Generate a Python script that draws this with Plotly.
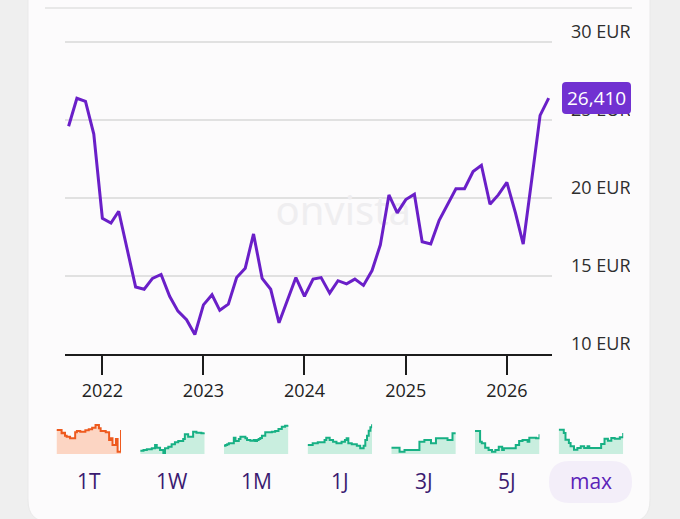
"""
plot.py

Price chart in the style of an onvista quote card: monthly closing prices
since autumn 2021, a badge with the last price and a row of small
step-line previews for the selectable time ranges below it.
"""

import plotly.graph_objects as go

W, H = 680, 519

# Main series (monthly, EUR)
DATES = [
    "2021-09-01", "2021-10-01", "2021-11-01", "2021-12-01",
    "2022-01-01", "2022-02-01", "2022-03-01", "2022-04-01", "2022-05-01", "2022-06-01",
    "2022-07-01", "2022-08-01", "2022-09-01", "2022-10-01", "2022-11-01", "2022-12-01",
    "2023-01-01", "2023-02-01", "2023-03-01", "2023-04-01", "2023-05-01", "2023-06-01",
    "2023-07-01", "2023-08-01", "2023-09-01", "2023-10-01", "2023-11-01", "2023-12-01",
    "2024-01-01", "2024-02-01", "2024-03-01", "2024-04-01", "2024-05-01", "2024-06-01",
    "2024-07-01", "2024-08-01", "2024-09-01", "2024-10-01", "2024-11-01", "2024-12-01",
    "2025-01-01", "2025-02-01", "2025-03-01", "2025-04-01", "2025-05-01", "2025-06-01",
    "2025-07-01", "2025-08-01", "2025-09-01", "2025-10-01", "2025-11-01", "2025-12-01",
    "2026-01-01", "2026-02-01", "2026-03-01", "2026-04-01", "2026-05-01", "2026-06-01",
]
PRICES = [
    24.6, 26.4, 26.2, 24.1,
    18.7, 18.4, 19.15, 16.75, 14.3, 14.15, 14.85, 15.1, 13.7, 12.75, 12.2, 11.25,
    13.15, 13.8, 12.8, 13.2, 14.9, 15.5, 17.7, 14.85, 14.15, 12.0, 13.45, 14.9,
    13.7, 14.8, 14.9, 13.9, 14.7, 14.5, 14.8, 14.4, 15.35, 17.0, 20.2, 19.05,
    19.9, 20.25, 17.2, 17.05, 18.55, 19.6, 20.6, 20.6, 21.7, 22.1, 19.6, 20.2,
    21.0, 19.05, 17.05, 21.2, 25.3, 26.41,
]

Y_TICKS = [10, 15, 20, 25, 30]
YEAR_TICKS = ["2022-01-01", "2023-01-01", "2024-01-01", "2025-01-01", "2026-01-01"]
YEAR_LABELS = ["2022", "2023", "2024", "2025", "2026"]

RANGE_LABELS = ["1T", "1W", "1M", "1J", "3J", "5J", "max"]
DOWN_RANGES = ["1T"]
SPARK_1T = [72, 72, 72, 62, 64, 55, 52, 52, 47, 47, 47, 65, 69, 69, 67, 67, 67, 71, 71, 74,
            74, 79, 79, 87, 87, 77, 69, 69, 69, 65, 65, 42, 47, 27, 27, 45, 7, 7, 72]
SPARK_1W = [10, 10, 12, 12, 14, 14, 14, 17, 17, 27, 19, 19, 12, 12, 2, 17, 17, 22, 22, 29,
            29, 35, 35, 39, 39, 39, 45, 59, 59, 52, 52, 52, 67, 67, 64, 64, 64, 62, 62, 64]
SPARK_1M = [25, 27, 29, 32, 32, 32, 49, 39, 39, 45, 52, 52, 52, 47, 42, 42, 40, 40, 42, 39,
            42, 45, 48, 55, 55, 65, 65, 65, 65, 67, 67, 69, 69, 75, 75, 82, 82, 85, 85, 86]
SPARK_1J = [27, 27, 27, 32, 32, 32, 35, 35, 35, 35, 42, 49, 49, 42, 42, 37, 37, 32, 32, 32,
            37, 37, 42, 47, 32, 32, 29, 29, 29, 25, 25, 17, 17, 25, 42, 55, 70, 80, 89]
SPARK_3J = [19, 19, 19, 19, 19, 7, 7, 7, 12, 12, 12, 12, 12, 12, 12, 12, 12, 37, 37, 37,
            42, 42, 42, 42, 32, 32, 32, 47, 47, 47, 47, 47, 47, 47, 42, 42, 42, 62, 62, 62]
SPARK_5J = [69, 69, 69, 37, 32, 32, 19, 19, 12, 12, 7, 7, 12, 12, 22, 22, 12, 17, 17, 17,
            17, 17, 17, 17, 27, 27, 39, 39, 42, 42, 42, 37, 49, 49, 49, 49, 47, 47, 59]
SPARK_MAX = [73, 73, 73, 63, 43, 43, 33, 23, 23, 13, 13, 18, 18, 23, 23, 18, 18, 23, 18, 18,
             18, 18, 18, 18, 18, 30, 30, 46, 46, 40, 40, 48, 48, 46, 46, 46, 50, 50, 63]
SPARKS = [SPARK_1T, SPARK_1W, SPARK_1M, SPARK_1J, SPARK_3J, SPARK_5J, SPARK_MAX]

FONT = "Open Sans"
LINE_COLOR = "#6a1fc8"
BADGE_COLOR = "#7131d1"
UP_LINE, UP_FILL = "#17b084", "#c9eedf"
DOWN_LINE, DOWN_FILL = "#ee5a1e", "#fcd5c3"

# main plot area in pixels
PLOT_L, PLOT_R, PLOT_T, PLOT_B = 65, 552, 31, 354
Y_MIN, Y_MAX = 10, 30.71
LABEL_TOP = 5


def fx(px):
    return px / W


def fy(py):
    return 1 - py / H


def rounded_rect(x0, y0, x1, y1, r):
    """SVG path (paper coords) of a rounded rectangle given in pixels."""
    pts = [
        ("M", [(x0 + r, y0)]), ("L", [(x1 - r, y0)]), ("Q", [(x1, y0), (x1, y0 + r)]),
        ("L", [(x1, y1 - r)]), ("Q", [(x1, y1), (x1 - r, y1)]),
        ("L", [(x0 + r, y1)]), ("Q", [(x0, y1), (x0, y1 - r)]),
        ("L", [(x0, y0 + r)]), ("Q", [(x0, y0), (x0 + r, y0)]),
    ]
    parts = []
    for cmd, coords in pts:
        parts.append(cmd + " " + " ".join(f"{fx(a):.5f},{fy(b):.5f}" for a, b in coords))
    return " ".join(parts) + " Z"


fig = go.Figure()

# watermark, drawn first so the price line sits on top of it
fig.add_trace(go.Scatter(
    x=["2024-05-20"], y=[18.9], mode="text", text=["onvista"],
    textfont=dict(family="Noto Sans", size=40, color="#efeef0"),
    hoverinfo="skip", showlegend=False,
))

fig.add_trace(go.Scatter(
    x=DATES, y=PRICES, mode="lines",
    line=dict(color=LINE_COLOR, width=3),
    showlegend=False,
))

# y labels as text so they get clipped at the card edge like the original
fig.add_trace(go.Scatter(
    x=[0] * len(Y_TICKS), y=Y_TICKS, mode="text",
    text=[f"{v} EUR" for v in Y_TICKS], textposition="top right",
    textfont=dict(family=FONT, size=18, color="#2e2e2e"),
    xaxis="x2", yaxis="y2", cliponaxis=True, hoverinfo="skip", showlegend=False,
))

# range previews
for i, (label, vals) in enumerate(zip(RANGE_LABELS, SPARKS)):
    n = i + 3
    down = label in DOWN_RANGES
    fig.add_trace(go.Scatter(
        x=list(range(len(vals))), y=vals, mode="lines", line_shape="hv",
        line=dict(color=DOWN_LINE if down else UP_LINE, width=2),
        fill="tozeroy", fillcolor=DOWN_FILL if down else UP_FILL,
        xaxis=f"x{n}", yaxis=f"y{n}", hoverinfo="skip", showlegend=False,
    ))

# label axis shares the pixel scale of the main y axis but reaches higher
px_per_unit = (PLOT_B - PLOT_T) / (Y_MAX - Y_MIN)
label_top_value = Y_MIN + (PLOT_B - LABEL_TOP) / px_per_unit

layout = dict(
    width=W, height=H,
    margin=dict(l=0, r=0, t=0, b=0),
    paper_bgcolor="#efefef",
    plot_bgcolor="rgba(0,0,0,0)",
    font=dict(family=FONT),
    xaxis=dict(
        domain=[fx(PLOT_L), fx(PLOT_R)], range=["2021-08-19", "2026-06-13"],
        showgrid=False, zeroline=False,
        showline=True, linecolor="#1c1c1c", linewidth=2,
        ticks="outside", ticklen=19, tickwidth=1.5, tickcolor="#1c1c1c",
        tickvals=YEAR_TICKS, ticktext=YEAR_LABELS, ticklabelstandoff=0,
        tickfont=dict(family=FONT, size=18, color="#222222"),
        fixedrange=True,
    ),
    yaxis=dict(
        domain=[fy(PLOT_B), fy(PLOT_T)], range=[Y_MIN, Y_MAX],
        tickvals=Y_TICKS, showticklabels=False, ticks="",
        showgrid=True, gridcolor="#e1e1e1", gridwidth=1.5,
        zeroline=False, showline=False, fixedrange=True,
    ),
    xaxis2=dict(domain=[fx(571), fx(630)], range=[0, 1], anchor="y2", visible=False),
    yaxis2=dict(domain=[fy(PLOT_B), fy(LABEL_TOP)], range=[Y_MIN, label_top_value],
                anchor="x2", visible=False),
)

PANEL_W, PANEL_STEP, PANEL_X0 = 64.5, 83.7, 56.5
for i, vals in enumerate(SPARKS):
    n = i + 3
    left = PANEL_X0 + i * PANEL_STEP
    layout[f"xaxis{n}"] = dict(domain=[fx(left), fx(left + PANEL_W)], range=[0, len(vals) - 1],
                               anchor=f"y{n}", visible=False, fixedrange=True)
    layout[f"yaxis{n}"] = dict(domain=[fy(454), fy(422)], range=[0, 96],
                               anchor=f"x{n}", visible=False, fixedrange=True)

fig.update_layout(**layout)

# card, separator and the selected-range pill
fig.add_shape(type="path", xref="paper", yref="paper", layer="below",
              path=rounded_rect(28, -40, 650, 522, 22),
              fillcolor="#fcfbfc", line=dict(color="#e9e9e9", width=1))
fig.add_shape(type="line", xref="paper", yref="paper", layer="below",
              x0=fx(45), x1=fx(632), y0=fy(8), y1=fy(8),
              line=dict(color="#e2e2e2", width=1.5))
fig.add_shape(type="path", xref="paper", yref="paper", layer="below",
              path=rounded_rect(549, 461, 632, 503, 21),
              fillcolor="#f3eef9", line=dict(width=0))

# last price badge
last = PRICES[-1]
fig.add_shape(type="path", xref="paper", yref="y", layer="above",
              xsizemode="pixel", xanchor=fx(562), ysizemode="pixel", yanchor=last,
              path="M 4,-16 L 65,-16 Q 69,-16 69,-12 L 69,12 Q 69,16 65,16 "
                   "L 4,16 Q 0,16 0,12 L 0,-12 Q 0,-16 4,-16 Z",
              fillcolor=BADGE_COLOR, line=dict(width=0))
fig.add_annotation(x=fx(596.5), xref="paper", y=last, yref="y", showarrow=False,
                   xanchor="center", yanchor="middle",
                   text=f"{last:.3f}".replace(".", ","),
                   font=dict(family=FONT, size=19, color="white"))

# range selector labels
for i, label in enumerate(RANGE_LABELS):
    cx = PANEL_X0 + i * PANEL_STEP + PANEL_W / 2
    fig.add_annotation(x=fx(cx), y=fy(481), xref="paper", yref="paper", showarrow=False,
                       xanchor="center", yanchor="middle", text=label,
                       font=dict(family=FONT, size=21,
                                 color="#5b22b8" if label == "max" else "#3b1a70"))

# the page's default body margin would push the figure 8px off the corner
fig.write_html("out.html", config={"displayModeBar": False},
               post_script="document.body.style.margin = '0';")
